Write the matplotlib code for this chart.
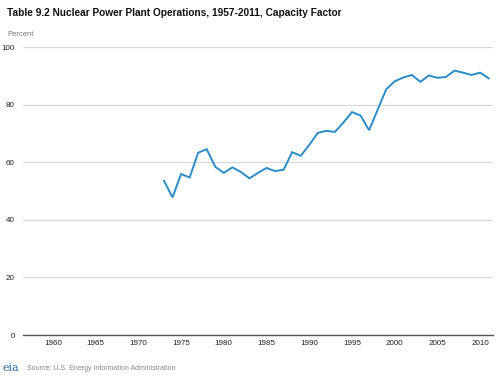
import matplotlib
matplotlib.use("Agg")
import matplotlib.pyplot as plt

plt.rcParams['font.family'] = ['Liberation Sans', 'DejaVu Sans']

years = list(range(1973, 2012))
capacity_factor = [53.5, 47.8, 55.9, 54.7, 63.3, 64.5, 58.4, 56.3, 58.2, 56.6,
                   54.4, 56.3, 58.0, 56.9, 57.4, 63.5, 62.2, 66.0, 70.2, 70.9,
                   70.5, 73.8, 77.4, 76.2, 71.1, 78.2, 85.3, 88.1, 89.4, 90.3,
                   87.9, 90.1, 89.3, 89.6, 91.8, 91.1, 90.3, 91.1, 89.1]
x_ticks = [1960, 1965, 1970, 1975, 1980, 1985, 1990, 1995, 2000, 2005, 2010]
y_ticks = [0, 20, 40, 60, 80, 100]

fig = plt.figure(figsize=(5, 3.76), dpi=100)
ax = fig.add_axes([0.046, 0.109, 0.94, 0.766])
ax.plot(years, capacity_factor, color='#2b8cc6', lw=1.4, solid_joinstyle='miter')
ax.set_xlim(1956.5, 2011.5)
ax.set_ylim(0, 100)
ax.set_xticks(x_ticks)
ax.set_xticklabels([str(t) for t in x_ticks], fontsize=5.8, color='#222222')
ax.set_yticks(y_ticks)
ax.set_yticklabels([str(t) for t in y_ticks], fontsize=5.8, color='#222222')
ax.tick_params(axis='y', length=0, pad=6)
ax.tick_params(axis='x', length=0, pad=3.5)
ax.grid(axis='y', color='#d8d8d8', lw=0.9)
ax.set_axisbelow(True)
for s in ['top', 'right', 'left']:
    ax.spines[s].set_visible(False)
ax.spines['bottom'].set_color('#555555')
ax.spines['bottom'].set_linewidth(1.0)

fig.text(0.014, 0.965, 'Table 9.2 Nuclear Power Plant Operations, 1957-2011, Capacity Factor',
         fontsize=7.3, fontweight='bold', color='#111111', va='center', ha='left')
fig.text(0.014, 0.908, 'Percent', fontsize=5.5, color='#777777', va='center', ha='left')
fig.text(0.054, 0.021, 'Source: U.S. Energy Information Administration',
         fontsize=5.0, color='#888888', va='center', ha='left')
fig.text(0.005, 0.02, 'eia', fontsize=8, color='#2a6f9e', va='center', ha='left',
         family='DejaVu Serif')

fig.savefig('out.png', dpi=100)
